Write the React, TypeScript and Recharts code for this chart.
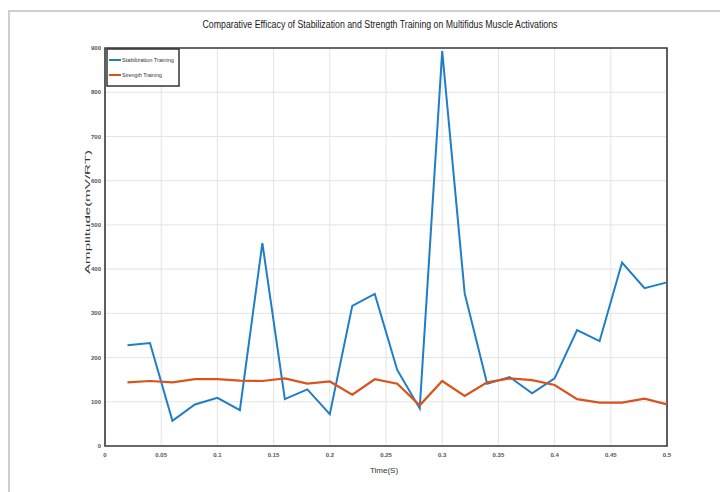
// Stabilization vs strength training: multifidus amplitude over time (MATLAB-style figure)

import { LineChart, Line, XAxis, YAxis, CartesianGrid, ReferenceArea } from 'recharts';

// ─── Data ─────────────────────────────────────────────────────────────────────

const timeS = [
  0.02, 0.04, 0.06, 0.08, 0.1, 0.12, 0.14, 0.16, 0.18, 0.2, 0.22, 0.24, 0.26,
  0.28, 0.3, 0.32, 0.34, 0.36, 0.38, 0.4, 0.42, 0.44, 0.46, 0.48, 0.5,
];
const stabilization = [
  228, 233, 57, 94, 109, 81, 459, 106, 128, 72, 317, 344, 172,
  85, 893, 345, 141, 156, 119, 153, 262, 237, 415, 357, 370,
];
const strength = [
  144, 147, 144, 151, 151, 148, 147, 153, 141, 146, 116, 151, 141,
  92, 147, 113, 144, 153, 149, 138, 106, 98, 98, 107, 94,
];
const xTicks = [0, 0.05, 0.1, 0.15, 0.2, 0.25, 0.3, 0.35, 0.4, 0.45, 0.5];
const yTicks = [0, 100, 200, 300, 400, 500, 600, 700, 800, 900];
const seriesNames = ['Stabilization Training', 'Strength Training'];

const chartData = timeS.map((t, i) => ({
  t,
  stab: stabilization[i],
  str: strength[i],
}));

// ─── Style ────────────────────────────────────────────────────────────────────

const BLUE = '#1f7ec6';
const ORANGE = '#d9541c';
const FONT = '"Liberation Sans Narrow", "Liberation Sans", Arial, sans-serif';
const W = 720;
const H = 484;

const tickStyle = { fill: '#555', fontSize: 6, fontFamily: FONT, fontWeight: 700 };

export default function App() {
  const legendColors = [BLUE, ORANGE];
  return (
    <div
      style={{
        position: 'relative',
        width: W,
        height: H,
        borderTop: '2px solid #cfcfcf',
        borderLeft: '2px solid #cfcfcf',
        marginTop: 2,
        boxSizing: 'border-box',
        background: '#fff',
      }}
    >
      <div style={{ position: 'absolute', left: -2, top: -2 }}>
        <LineChart
          width={W}
          height={H}
          data={chartData}
          margin={{ top: 38, right: 61, bottom: 26, left: 77 }}
        >
          <CartesianGrid stroke="#e4e4e4" strokeWidth={1} />
          <XAxis
            type="number"
            dataKey="t"
            domain={[0, 0.5]}
            ticks={xTicks}
            tickFormatter={(v: number) => String(v)}
            tick={tickStyle}
            axisLine={false}
            tickLine={false}
            tickSize={0}
            tickMargin={7}
            height={22}
          />
          <YAxis
            type="number"
            domain={[0, 900]}
            ticks={yTicks}
            tick={tickStyle}
            axisLine={false}
            tickLine={false}
            tickSize={0}
            tickMargin={4}
            width={20}
          />
          <ReferenceArea
            x1={0}
            x2={0.5}
            y1={0}
            y2={900}
            fill="none"
            stroke="#3a3a3a"
            strokeWidth={1.6}
            ifOverflow="visible"
          />
          <Line
            type="linear"
            dataKey="stab"
            stroke={BLUE}
            strokeWidth={2}
            dot={false}
            isAnimationActive={false}
          />
          <Line
            type="linear"
            dataKey="str"
            stroke={ORANGE}
            strokeWidth={2.2}
            dot={false}
            isAnimationActive={false}
          />
        </LineChart>
      </div>

      {/* title, axis labels, legend */}
      <svg
        width={W}
        height={H}
        style={{ position: 'absolute', left: -2, top: -2, pointerEvents: 'none' }}
      >
        <text
          x={372}
          y={18}
          textAnchor="middle"
          fontFamily={FONT}
          fontSize={10}
          fill="#1a1a1a"
          textLength={355}
          lengthAdjust="spacingAndGlyphs"
        >
          Comparative Efficacy of Stabilization and Strength Training on Multifidus Muscle Activations
        </text>
        <text
          x={376}
          y={463}
          textAnchor="middle"
          fontFamily={FONT}
          fontSize={8}
          fill="#333"
        >
          Time(S)
        </text>
        <text
          transform="translate(82, 202) rotate(-90)"
          textAnchor="middle"
          fontFamily={FONT}
          fontSize={8}
          fill="#333"
          textLength={124}
          lengthAdjust="spacingAndGlyphs"
        >
          Amplitude(mV/RT)
        </text>

        <g>
          <rect x={99} y={39} width={72} height={37} fill="#fff" stroke="#333" strokeWidth={1.5} />
          {seriesNames.map((name, i) => (
            <g key={name}>
              <line
                x1={101}
                x2={113}
                y1={50 + i * 15}
                y2={50 + i * 15}
                stroke={legendColors[i]}
                strokeWidth={2}
              />
              <text
                x={114}
                y={52 + i * 15}
                fontFamily={FONT}
                fontSize={6}
                fill="#333"
                textLength={i === 0 ? 52 : 40}
                lengthAdjust="spacingAndGlyphs"
              >
                {name}
              </text>
            </g>
          ))}
        </g>
      </svg>
    </div>
  );
}
